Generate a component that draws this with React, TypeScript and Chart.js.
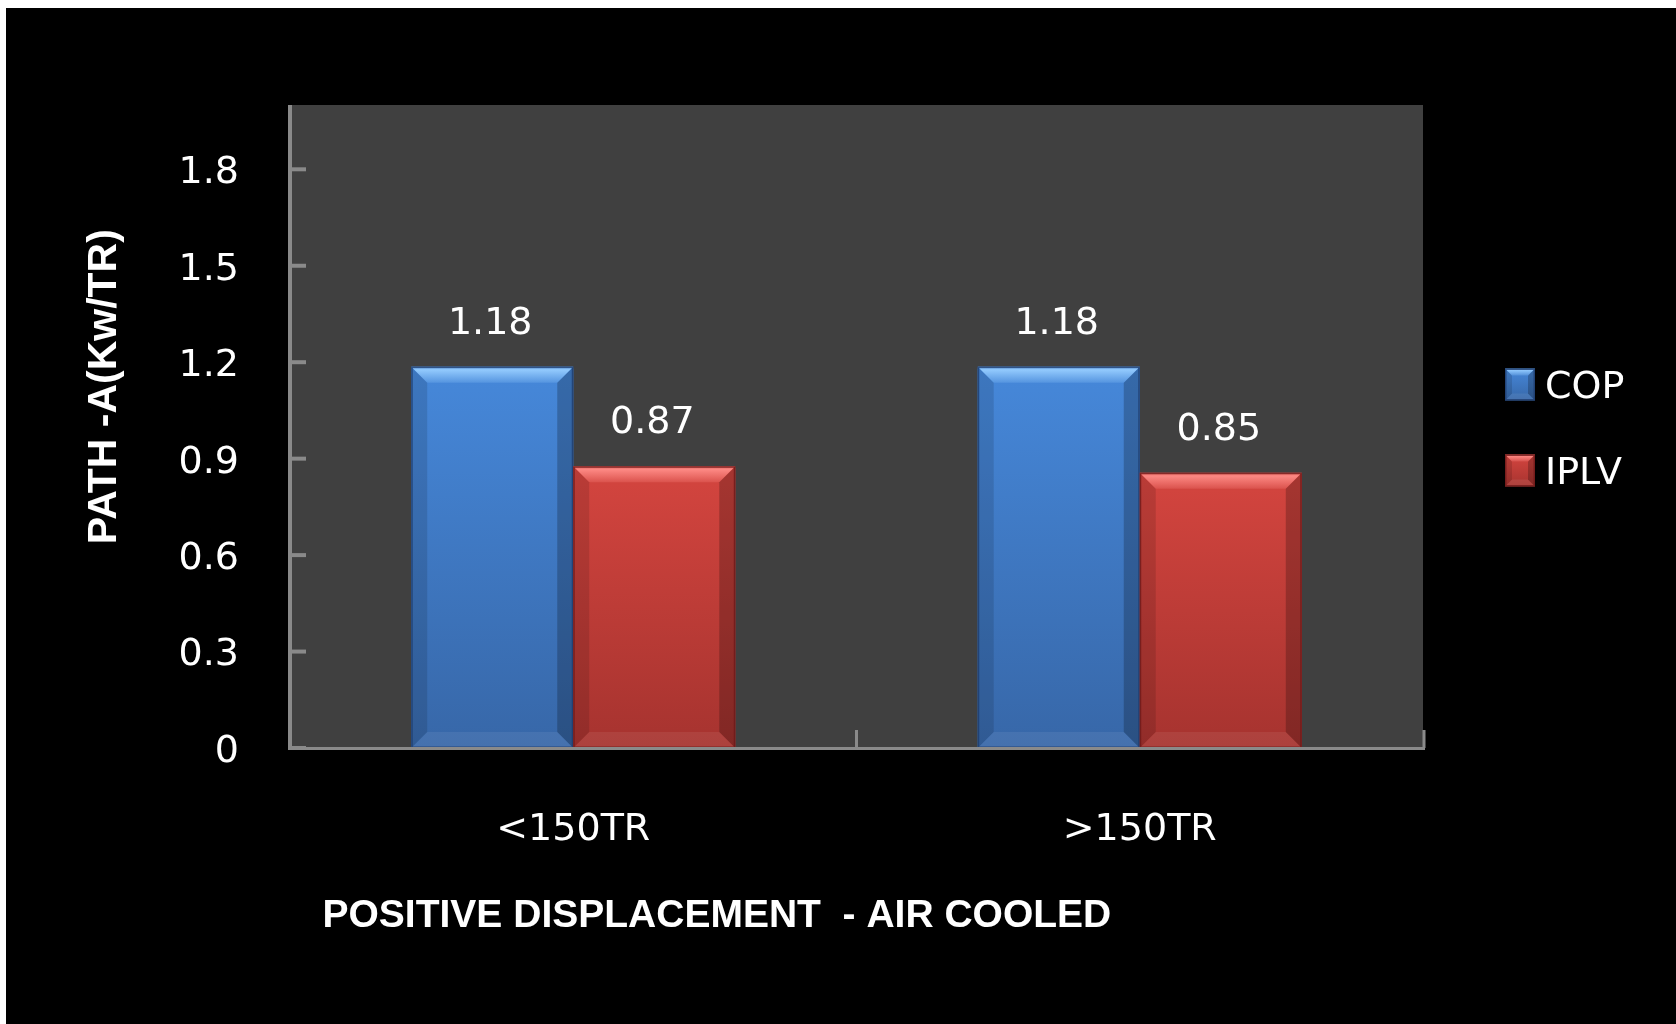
import { useEffect, useRef } from 'react';
import { Chart, registerables } from 'chart.js';

Chart.register(...registerables);

// ---- data ----
const CATEGORIES = ['<150TR', '>150TR'];
const SERIES_NAMES = ['COP', 'IPLV'];
const COP_VALUES = [1.18, 1.18];
const IPLV_VALUES = [0.87, 0.85];
const Y_TICKS = [0, 0.3, 0.6, 0.9, 1.2, 1.5, 1.8];
const Y_MAX = 2.0;
const Y_TITLE = 'PATH -A(Kw/TR)';
const X_TITLE = 'POSITIVE DISPLACEMENT  - AIR COOLED';

// ---- styles ----
const PALETTE = [
  { mid: '#3f79c4', top: '#4688da', bottom: '#3767a8', hi: [150, 205, 255], edge: 'rgba(30,60,110,0.8)' },
  { mid: '#c03d39', top: '#d4453f', bottom: '#a6332f', hi: [255, 140, 135], edge: 'rgba(110,25,25,0.8)' },
];
const AXIS_COLOR = '#8a8a8a';
const PLOT_BG = '#404040';
const TEXT_FONT = 'DejaVu Sans';
const TITLE_FONT = 'Liberation Sans';

function poly(ctx: CanvasRenderingContext2D, pts: number[][], fill: any) {
  ctx.beginPath();
  ctx.moveTo(pts[0][0], pts[0][1]);
  for (let i = 1; i < pts.length; i++) ctx.lineTo(pts[i][0], pts[i][1]);
  ctx.closePath();
  ctx.fillStyle = fill;
  ctx.fill();
}

function drawBevelBox(ctx: CanvasRenderingContext2D, l: number, t: number, r: number, b: number, pal: any, bv: number) {
  const g = ctx.createLinearGradient(0, t, 0, b);
  g.addColorStop(0, pal.top);
  g.addColorStop(1, pal.bottom);
  ctx.fillStyle = g;
  ctx.fillRect(l, t, r - l, b - t);
  poly(ctx, [[l, t], [l + bv, t + bv], [l + bv, b - bv], [l, b]], 'rgba(0,0,0,0.12)');
  poly(ctx, [[r, t], [r - bv, t + bv], [r - bv, b - bv], [r, b]], 'rgba(0,0,0,0.22)');
  poly(ctx, [[l, b], [l + bv, b - bv], [r - bv, b - bv], [r, b]], 'rgba(255,255,255,0.07)');
  const [hr, hg, hb] = pal.hi;
  const tg = ctx.createLinearGradient(0, t, 0, t + bv);
  tg.addColorStop(0, `rgba(${hr},${hg},${hb},0.4)`);
  tg.addColorStop(0.2, `rgba(${hr},${hg},${hb},0.95)`);
  tg.addColorStop(1, `rgba(${hr},${hg},${hb},0.2)`);
  poly(ctx, [[l, t], [r, t], [r - bv, t + bv], [l + bv, t + bv]], tg);
  ctx.strokeStyle = pal.edge;
  ctx.lineWidth = 1.5;
  ctx.strokeRect(l + 0.75, t + 0.75, r - l - 1.5, b - t - 1.5);
}

const backgroundPlugin = {
  id: 'bgPlot',
  beforeDraw(chart: any) {
    const { ctx, chartArea: a } = chart;
    ctx.save();
    ctx.fillStyle = '#000';
    ctx.fillRect(0, 0, chart.width, chart.height);
    ctx.fillStyle = PLOT_BG;
    ctx.fillRect(a.left, a.top, a.right - a.left, a.bottom - a.top);
    ctx.restore();
  },
};

const barStylePlugin = {
  id: 'barStyle',
  afterDatasetsDraw(chart: any) {
    const ctx: CanvasRenderingContext2D = chart.ctx;
    const a = chart.chartArea;
    ctx.save();
    chart.data.datasets.forEach((ds: any, di: number) => {
      const meta = chart.getDatasetMeta(di);
      const pal = PALETTE[di];
      meta.data.forEach((el: any, i: number) => {
        const { x, y, base, width } = el.getProps(['x', 'y', 'base', 'width'], true);
        const l = x - width / 2;
        const r = x + width / 2;
        drawBevelBox(ctx, l, y - 2, r, base, pal, 16);
        // value label
        ctx.fillStyle = '#ffffff';
        ctx.font = `38px "${TEXT_FONT}"`;
        ctx.textAlign = 'center';
        ctx.textBaseline = 'middle';
        ctx.fillText(String(ds.data[i]), x - 2, y - 45);
      });
    });
    // axes lines and inward ticks
    const ys = chart.scales.y;
    const xs = chart.scales.x;
    ctx.strokeStyle = AXIS_COLOR;
    ctx.lineWidth = 4;
    ctx.beginPath();
    ctx.moveTo(a.left, a.top);
    ctx.lineTo(a.left, a.bottom + 2);
    ctx.stroke();
    Y_TICKS.forEach((v) => {
      const py = ys.getPixelForValue(v);
      ctx.beginPath();
      ctx.moveTo(a.left, py);
      ctx.lineTo(a.left + 16, py);
      ctx.stroke();
    });
    ctx.lineWidth = 3;
    ctx.beginPath();
    ctx.moveTo(a.left - 2, a.bottom + 0.5);
    ctx.lineTo(a.right + 2, a.bottom + 0.5);
    ctx.stroke();
    const bounds: number[] = [];
    for (let i = 0; i < CATEGORIES.length - 1; i++) {
      bounds.push((xs.getPixelForValue(i) + xs.getPixelForValue(i + 1)) / 2);
    }
    bounds.push(a.right + 1);
    bounds.forEach((bx) => {
      ctx.beginPath();
      ctx.moveTo(bx, a.bottom);
      ctx.lineTo(bx, a.bottom - 18);
      ctx.stroke();
    });
    ctx.restore();
  },
};

const legendPlugin = {
  id: 'sideLegend',
  afterDraw(chart: any) {
    const ctx: CanvasRenderingContext2D = chart.ctx;
    const a = chart.chartArea;
    const midY = (a.top + a.bottom) / 2;
    const bx = a.right + 82;
    ctx.save();
    chart.data.datasets.forEach((ds: any, i: number) => {
      const cy = midY - 42 + i * 86;
      drawBevelBox(ctx, bx, cy - 16, bx + 30, cy + 16, PALETTE[i], 7);
      ctx.fillStyle = '#ffffff';
      ctx.font = `38px "${TEXT_FONT}"`;
      ctx.textAlign = 'left';
      ctx.textBaseline = 'middle';
      ctx.fillText(ds.label, bx + 40, cy + 4);
    });
    ctx.restore();
  },
};

export default function App() {
  const canvasRef = useRef<HTMLCanvasElement | null>(null);

  useEffect(() => {
    if (!canvasRef.current) return;
    const chart = new Chart(canvasRef.current, {
      type: 'bar',
      data: {
        labels: CATEGORIES,
        datasets: [
          {
            label: SERIES_NAMES[0],
            data: COP_VALUES,
            backgroundColor: PALETTE[0].mid,
            borderWidth: 0,
            barPercentage: 1.0,
            categoryPercentage: 0.572,
          },
          {
            label: SERIES_NAMES[1],
            data: IPLV_VALUES,
            backgroundColor: PALETTE[1].mid,
            borderWidth: 0,
            barPercentage: 1.0,
            categoryPercentage: 0.572,
          },
        ],
      },
      options: {
        animation: false,
        responsive: false,
        devicePixelRatio: 1,
        layout: { padding: { left: 0, top: 97, right: 253, bottom: 0 } },
        plugins: {
          legend: { display: false },
          tooltip: { enabled: false },
        },
        scales: {
          x: {
            type: 'category',
            grid: { display: false },
            border: { display: false },
            ticks: {
              color: '#ffffff',
              font: { family: TEXT_FONT, size: 38 },
              padding: 51,
            },
            title: {
              display: true,
              text: '   ' + X_TITLE,
              align: 'start',
              color: '#ffffff',
              font: { family: TITLE_FONT, size: 39, weight: 'bold' },
              padding: { top: 0, bottom: 84 },
            },
            afterFit: (s: any) => {
              s.height = 276;
            },
          },
          y: {
            min: 0,
            max: Y_MAX,
            afterBuildTicks: (s: any) => {
              s.ticks = Y_TICKS.map((v) => ({ value: v }));
            },
            grid: { display: false },
            border: { display: false },
            ticks: {
              color: '#ffffff',
              font: { family: TEXT_FONT, size: 38 },
              padding: 43,
              labelOffset: 4,
              callback: (v: any) => String(Math.round(Number(v) * 10) / 10),
            },
            title: {
              display: true,
              text: '       ' + Y_TITLE,
              color: '#ffffff',
              font: { family: TITLE_FONT, size: 41, weight: 'bold' },
              padding: { top: 74, bottom: 0 },
            },
            afterFit: (s: any) => {
              s.width = 284;
            },
          },
        },
      } as any,
      plugins: [backgroundPlugin, barStylePlugin, legendPlugin],
    });
    return () => chart.destroy();
  }, []);

  return (
    <div style={{ position: 'absolute', left: 6, top: 8, width: 1670, height: 1016, background: '#000' }}>
      <canvas ref={canvasRef} width={1670} height={1016} style={{ display: 'block' }} />
    </div>
  );
}
